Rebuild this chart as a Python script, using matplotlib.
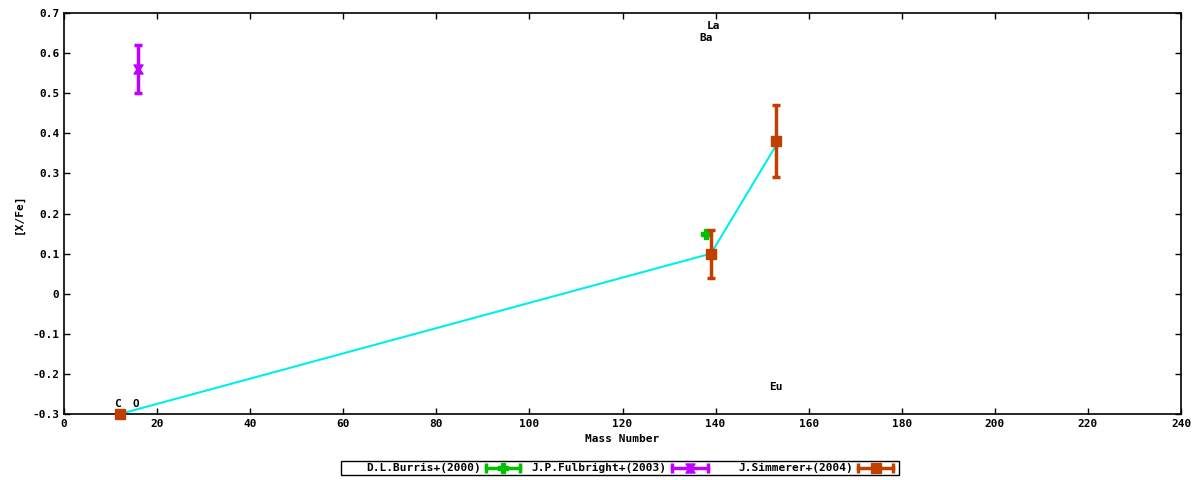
import matplotlib
matplotlib.use("Agg")
import matplotlib.pyplot as plt
from matplotlib.lines import Line2D
from matplotlib.patches import Rectangle
from matplotlib.path import Path
import numpy as np

# Data
burris_x = [138]
burris_y = [0.15]
burris_err = [0.0]

fulbright_x = [16]
fulbright_y = [0.56]
fulbright_err = [0.06]

simmerer_x = [12, 139, 153]
simmerer_y = [-0.30, 0.10, 0.38]
simmerer_err = [0.0, 0.06, 0.09]

line_x = [12, 139, 153]
line_y = [-0.30, 0.10, 0.37]

elem_labels = ["C", "O", "Ba", "La", "Eu"]
elem_x = [11.5, 15.5, 138, 139.5, 153]
elem_y = [-0.275, -0.275, 0.637, 0.667, -0.232]

legend_labels = ["D.L.Burris+(2000)", "J.P.Fulbright+(2003)", "J.Simmerer+(2004)"]

GREEN = "#00c000"
PURPLE = "#c000ff"
ORANGE = "#c04000"
CYAN = "#00eeee"

hourglass = Path([(-1, 1), (1, 1), (0.35, 0), (1, -1), (-1, -1), (-0.35, 0), (-1, 1)],
                 [Path.MOVETO] + [Path.LINETO] * 5 + [Path.CLOSEPOLY])

plt.rcParams['font.family'] = ['DejaVu Sans Mono']
plt.rcParams['font.weight'] = 'bold'
plt.rcParams['font.size'] = 8

fig = plt.figure(figsize=(12, 4.8), dpi=100)
ax = fig.add_axes([64/1200, 1-414/480, (1181-64)/1200, (414-13)/480])

ax.plot(line_x, line_y, color=CYAN, lw=1.5, zorder=2)

ax.errorbar(burris_x, burris_y, yerr=burris_err, fmt='P', color=GREEN, ms=7,
            mec=GREEN, capsize=3, elinewidth=2.5, capthick=2.5, zorder=3)
ax.errorbar(fulbright_x, fulbright_y, yerr=fulbright_err, fmt='none', ecolor=PURPLE,
            capsize=3, elinewidth=2.5, capthick=2.5, zorder=3)
ax.plot(fulbright_x, fulbright_y, linestyle='none', marker=hourglass, ms=6.5,
        color=PURPLE, mec=PURPLE, zorder=3)
ax.errorbar(simmerer_x, simmerer_y, yerr=simmerer_err, fmt='s', color=ORANGE, ms=7,
            mec=ORANGE, capsize=3, elinewidth=2.5, capthick=2.5, zorder=4, clip_on=False)

for lab, x, y in zip(elem_labels, elem_x, elem_y):
    ax.text(x, y, lab, ha='center', va='center', fontsize=8, fontweight='bold', color='black')

ax.set_xlim(0, 240)
ax.set_ylim(-0.3, 0.7)
ax.set_xticks(np.arange(0, 241, 20))
ax.set_yticks(np.round(np.arange(-0.3, 0.71, 0.1), 1))
ax.set_yticklabels(["-0.3", "-0.2", "-0.1", "0", "0.1", "0.2", "0.3", "0.4", "0.5", "0.6", "0.7"])
ax.tick_params(direction='in', top=True, right=True, length=4, width=1, labelsize=8)
ax.set_xlabel("Mass Number", fontsize=8, fontweight='bold', labelpad=4)
ax.set_ylabel("[X/Fe]", fontsize=8, fontweight='bold', labelpad=6)
for s in ax.spines.values():
    s.set_linewidth(1.2)

# Manual gnuplot-style legend
W, H = 1200, 480
fig.add_artist(Rectangle((341/W, 1-475/H), (899-341)/W, 14/H, transform=fig.transFigure,
                         fill=False, edgecolor='black', lw=1.0))
ly = 1 - 468/H
text_ends = [481, 666, 853]
samples = [(486, 520), (672, 708), (858, 893)]
colors = [GREEN, PURPLE, ORANGE]
markers = ['P', hourglass, 's']
for lab, te, (s0, s1), c, m in zip(legend_labels, text_ends, samples, colors, markers):
    fig.text(te/W, ly, lab, ha='right', va='center', fontsize=8, fontweight='bold')
    fig.add_artist(Line2D([s0/W, s1/W], [ly, ly], transform=fig.transFigure, color=c, lw=2.5))
    fig.add_artist(Line2D([s0/W, s1/W], [ly, ly], transform=fig.transFigure, color=c,
                          linestyle='none', marker='|', ms=7, mew=2.5))
    fig.add_artist(Line2D([(s0+s1)/2/W], [ly], transform=fig.transFigure, color=c,
                          linestyle='none', marker=m, ms=6.5, mec=c))

fig.savefig("out.png", dpi=100)
